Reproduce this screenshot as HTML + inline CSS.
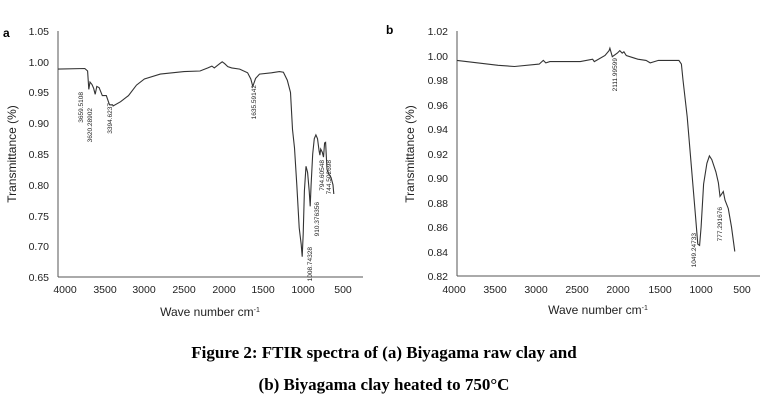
<!DOCTYPE html>
<html><head><meta charset="utf-8"><style>
html,body{margin:0;padding:0;background:#fff;width:767px;height:413px;overflow:hidden}
svg{display:block}
text{font-family:"Liberation Sans",Arial,sans-serif;fill:#222}
.t{font-size:10.5px}
.a{font-size:6.5px;fill:#333}
.cap{font-family:"Liberation Serif","Times New Roman",serif;font-weight:bold;font-size:17px;fill:#000}
</style></head><body>
<svg id="s" width="767" height="413" xmlns="http://www.w3.org/2000/svg">
<line x1="58" y1="31" x2="58" y2="277" stroke="#555" stroke-width="1"/>
<line x1="58" y1="277" x2="363" y2="277" stroke="#555" stroke-width="1"/>
<g class="t" text-anchor="end">
<text x="49" y="35">1.05</text><text x="49" y="66">1.00</text><text x="49" y="96">0.95</text>
<text x="49" y="127">0.90</text><text x="49" y="158">0.85</text><text x="49" y="189">0.80</text>
<text x="49" y="220">0.75</text><text x="49" y="250">0.70</text><text x="49" y="281">0.65</text>
</g>
<g class="t" text-anchor="middle">
<text x="65" y="293">4000</text><text x="105" y="293">3500</text><text x="144" y="293">3000</text>
<text x="184" y="293">2500</text><text x="224" y="293">2000</text><text x="263" y="293">1500</text>
<text x="303" y="293">1000</text><text x="343" y="293">500</text>
</g>
<text x="210" y="316" text-anchor="middle" style="font-size:12px">Wave number cm<tspan dy="-4" style="font-size:7px">-1</tspan></text>
<text transform="translate(16,154) rotate(-90)" text-anchor="middle" style="font-size:12px">Transmittance (%)</text>
<text x="3" y="37" style="font-size:12px;font-weight:bold;fill:#000">a</text>
<g class="a" text-anchor="end">
<text transform="translate(83,92) rotate(-90)">3659.5108</text>
<text transform="translate(92,108) rotate(-90)">3620.28902</text>
<text transform="translate(112,103) rotate(-90)">3394.6237</text>
<text transform="translate(256,85) rotate(-90)">1635.59142</text>
<text transform="translate(312,247) rotate(-90)">1008.74328</text>
<text transform="translate(319,202) rotate(-90)">910.376356</text>
<text transform="translate(324,160) rotate(-90)">794.60548</text>
<text transform="translate(331,160) rotate(-90)">744.502698</text>
</g>
<line x1="457" y1="31" x2="457" y2="276" stroke="#555" stroke-width="1"/>
<line x1="457" y1="276" x2="760" y2="276" stroke="#555" stroke-width="1"/>
<g class="t" text-anchor="end">
<text x="448" y="35">1.02</text><text x="448" y="60">1.00</text><text x="448" y="84">0.98</text>
<text x="448" y="109">0.96</text><text x="448" y="133">0.94</text><text x="448" y="158">0.92</text>
<text x="448" y="182">0.90</text><text x="448" y="207">0.88</text><text x="448" y="231">0.86</text>
<text x="448" y="256">0.84</text><text x="448" y="280">0.82</text>
</g>
<g class="t" text-anchor="middle">
<text x="454" y="293">4000</text><text x="495" y="293">3500</text><text x="536" y="293">3000</text>
<text x="577" y="293">2500</text><text x="618" y="293">2000</text><text x="660" y="293">1500</text>
<text x="701" y="293">1000</text><text x="742" y="293">500</text>
</g>
<text x="598" y="314" text-anchor="middle" style="font-size:12px">Wave number cm<tspan dy="-4" style="font-size:7px">-1</tspan></text>
<text transform="translate(414,154) rotate(-90)" text-anchor="middle" style="font-size:12px">Transmittance (%)</text>
<text x="386" y="34" style="font-size:12px;font-weight:bold;fill:#000">b</text>
<g class="a" text-anchor="end">
<text transform="translate(617,58) rotate(-90)">2111.99599</text>
<text transform="translate(696,233) rotate(-90)">1049.24733</text>
<text transform="translate(722,207) rotate(-90)">777.291676</text>
</g>
<path id="pa" fill="none" stroke="#333" stroke-width="1.1"/>
<path id="pb" fill="none" stroke="#333" stroke-width="1.1"/>
<text class="cap" x="384" y="358" text-anchor="middle">Figure 2: FTIR spectra of (a) Biyagama raw clay and</text>
<text class="cap" x="384" y="390" text-anchor="middle">(b) Biyagama clay heated to 750°C</text>
</svg>
<script>
var A=[[4088,.988],[3750,.989],[3715,.985],[3700,.955],[3685,.967],[3660,.963],[3640,.957],[3620,.947],[3600,.96],[3570,.958],[3530,.945],[3480,.945],[3440,.93],[3400,.93],[3394,.928],[3300,.935],[3200,.945],[3100,.962],[3000,.972],[2800,.98],[2500,.984],[2300,.985],[2200,.99],[2150,.993],[2120,.99],[2050,.997],[2020,1.0],[1990,.997],[1950,.992],[1900,.99],[1800,.988],[1700,.982],[1660,.972],[1635,.96],[1600,.973],[1550,.98],[1400,.982],[1300,.984],[1250,.983],[1200,.97],[1160,.95],[1135,.89],[1110,.86],[1080,.8],[1050,.73],[1025,.703],[1012,.683],[1000,.72],[985,.79],[965,.83],[945,.82],[925,.79],[912,.765],[900,.8],[880,.85],[860,.875],[840,.881],[820,.875],[800,.855],[790,.848],[780,.858],[760,.853],[744,.845],[730,.868],[718,.869],[700,.825],[680,.818],[650,.812],[625,.8],[615,.785]];
var B=[[4000,.996],[3500,.992],[3300,.991],[3000,.993],[2950,.996],[2920,.994],[2870,.995],[2500,.995],[2350,.997],[2330,.995],[2200,1.0],[2150,1.004],[2140,1.006],[2111,.999],[2050,1.002],[2020,1.004],[1990,1.002],[1970,1.003],[1940,1.0],[1800,.997],[1700,.996],[1650,.994],[1550,.996],[1400,.996],[1300,.996],[1270,.993],[1250,.98],[1200,.95],[1150,.91],[1100,.87],[1070,.846],[1049,.845],[1030,.86],[1000,.895],[960,.912],[930,.918],[900,.915],[850,.905],[820,.896],[800,.885],[780,.887],[760,.889],[740,.882],[700,.875],[660,.86],[620,.84]];
function p(D,x0,sx,y0,t0,sy){return D.map(function(d,i){return (i?'L':'M')+(x0+(4000-d[0])*sx).toFixed(1)+','+(y0+(t0-d[1])*sy).toFixed(1)}).join('')}
document.getElementById('pa').setAttribute('d',p(A,65,0.0794,31,1.05,615));
document.getElementById('pb').setAttribute('d',p(B,457,0.0822,31,1.02,1225));
</script>
</body></html>
